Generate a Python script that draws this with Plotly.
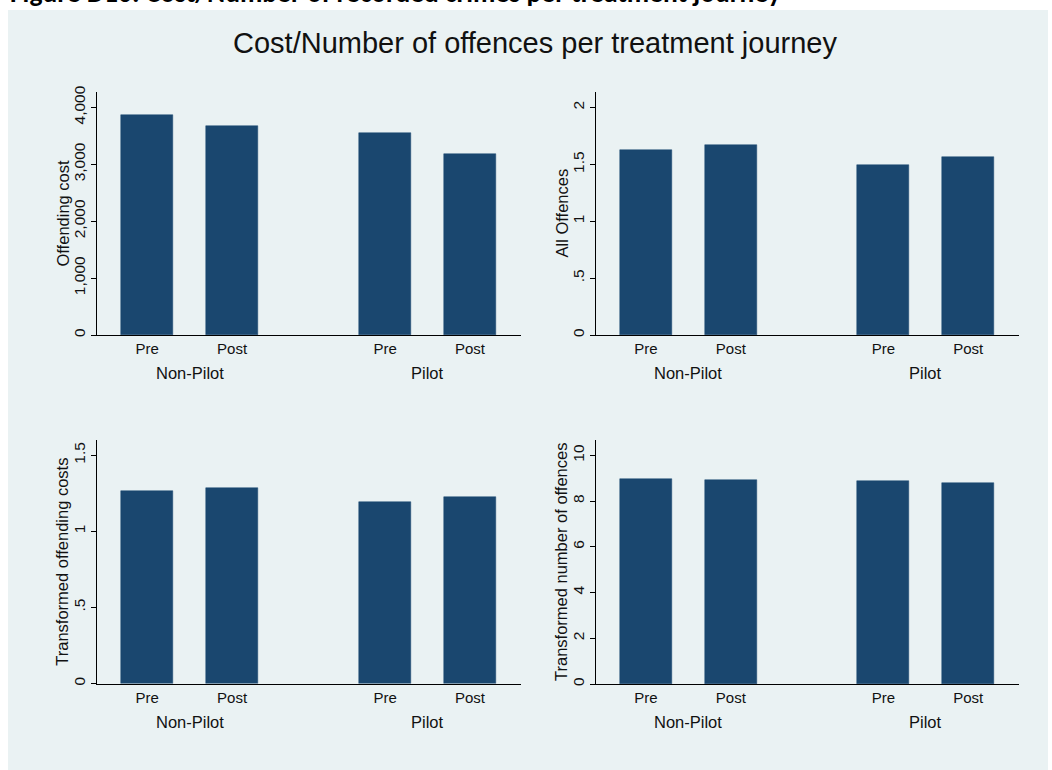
import plotly.graph_objects as go

# ---- data -------------------------------------------------------------
periods = ["Pre", "Post", "Pre", "Post"]
groups = ["Non-Pilot", "Pilot"]
bar_pos = [0, 1, 2.8, 3.8]          # Pre/Post within each group, gap between groups
group_pos = [0.5, 3.3]

offending_cost = [3871, 3678, 3544, 3175]
all_offences = [1.628, 1.669, 1.497, 1.564]
transformed_costs = [1.263, 1.285, 1.193, 1.228]
transformed_offences = [8.96, 8.92, 8.89, 8.77]

y_titles = ["Offending cost", "All Offences",
            "Transformed offending costs", "Transformed number of offences"]

ticks_cost = [0, 1000, 2000, 3000, 4000]
ticklabels_cost = ["0", "1,000", "2,000", "3,000", "4,000"]
ticks_all = [0, 0.5, 1, 1.5, 2]
ticklabels_all = ["0", ".5", "1", "1.5", "2"]
ticks_tcost = [0, 0.5, 1, 1.5]
ticklabels_tcost = ["0", ".5", "1", "1.5"]
ticks_toff = [0, 2, 4, 6, 8, 10]
ticklabels_toff = ["0", "2", "4", "6", "8", "10"]

y_max = [4270, 2.137, 1.60, 10.67]

# ---- styling ----------------------------------------------------------
W, H = 1052, 770
BAR = "#1A476F"
BG = "#EAF2F3"
FONT = "Arial, Liberation Sans, sans-serif"

# panel boxes in pixels: (left, right, top, bottom)
boxes = [(97, 521, 92, 335), (596, 1019, 92, 335),
         (97, 521, 440, 683.5), (596, 1019, 440, 684)]

series = [offending_cost, all_offences, transformed_costs, transformed_offences]
ticks = [(ticks_cost, ticklabels_cost), (ticks_all, ticklabels_all),
         (ticks_tcost, ticklabels_tcost), (ticks_toff, ticklabels_toff)]

fig = go.Figure()
annotations = []

for i, (vals, box) in enumerate(zip(series, boxes)):
    n = "" if i == 0 else str(i + 1)
    xa, ya = "x" + n, "y" + n
    fig.add_trace(go.Bar(
        x=bar_pos, y=vals, width=0.612,
        marker=dict(color=BAR, line=dict(color=BAR, width=0.5)),
        xaxis=xa, yaxis=ya, showlegend=False, hoverinfo="y",
    ))
    l, r, t, b = box
    dom_x = [l / W, r / W]
    dom_y = [1 - b / H, 1 - t / H]
    tv, tt = ticks[i]
    fig.layout["xaxis" + n] = dict(
        domain=dom_x, anchor=ya, range=[-0.59, 4.4],
        tickmode="array", tickvals=bar_pos, ticktext=periods,
        ticks="", showgrid=False, zeroline=False,
        showline=True, linecolor="black", linewidth=1.2,
        tickfont=dict(family=FONT, size=15, color="#111"),
        automargin=False, fixedrange=True,
    )
    fig.layout["yaxis" + n] = dict(
        domain=dom_y, anchor=xa, range=[0, y_max[i]],
        tickmode="array", tickvals=tv, ticktext=tt, tickangle=-90,
        ticks="outside", ticklen=5, tickcolor="black", tickwidth=1,
        showgrid=True, gridcolor=BG, gridwidth=1, zeroline=False,
        showline=True, linecolor="black", linewidth=1.2,
        tickfont=dict(family=FONT, size=15.5, color="#111"),
        automargin=False, fixedrange=True,
    )
    # y-axis title, rotated, left of the tick labels
    annotations.append(dict(
        text=y_titles[i], x=(l - 35) / W, y=1 - (t + b) / 2 / H,
        xref="paper", yref="paper", textangle=-90,
        showarrow=False, xanchor="center", yanchor="middle",
        font=dict(family=FONT, size=16.5, color="#111"),
    ))
    for g, gx in zip(groups, group_pos):
        annotations.append(dict(
            text=g, x=gx, xref=xa, y=1 - (b + 38) / H, yref="paper",
            showarrow=False, xanchor="center", yanchor="middle",
            font=dict(family=FONT, size=16.5, color="#111"),
        ))

# chart title
annotations.append(dict(
    text="Cost/Number of offences per treatment journey",
    x=535 / W, y=1 - 43 / H, xref="paper", yref="paper",
    showarrow=False, xanchor="center", yanchor="middle",
    font=dict(family=FONT, size=29, color="#111"),
))

# caption running off the top of the page
annotations.append(dict(
    text="<b>Figure D16: Cost/Number of recorded crimes per treatment journey</b>",
    x=8 / W, y=1 + 7.5 / H, xref="paper", yref="paper",
    showarrow=False, xanchor="left", yanchor="middle",
    font=dict(family="Carlito, Liberation Sans, sans-serif", size=27.5, color="black"),
))

fig.update_layout(
    width=W, height=H,
    margin=dict(l=0, r=0, t=0, b=0, autoexpand=False),
    paper_bgcolor="white", plot_bgcolor="white",
    annotations=annotations,
    bargap=0,
    shapes=[dict(type="rect", xref="paper", yref="paper",
                 x0=8 / W, x1=1048 / W, y0=0, y1=1 - 10 / H,
                 fillcolor=BG, line=dict(width=0), layer="below")],
)

fig.write_html("out.html")
